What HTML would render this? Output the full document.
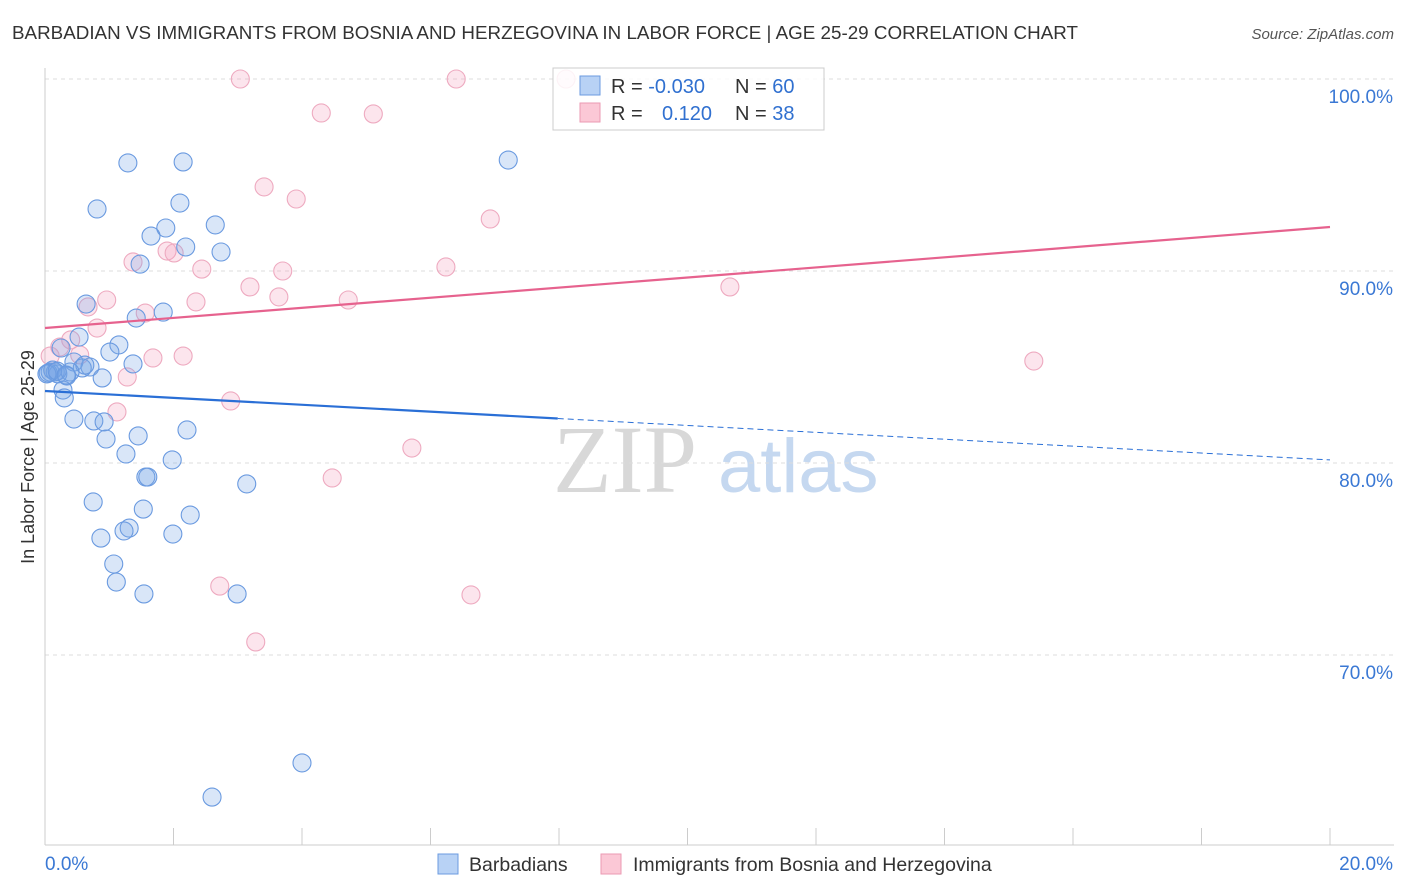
<!DOCTYPE html>
<html><head><meta charset="utf-8"><style>
body{margin:0;background:#fff;font-family:"Liberation Sans",sans-serif;}
svg{display:block}
</style></head><body>
<svg id="chart" width="1406" height="892" xmlns="http://www.w3.org/2000/svg">
<text x="12" y="39" font-size="18.8" fill="#333" font-family="Liberation Sans, sans-serif" textLength="1066">BARBADIAN VS IMMIGRANTS FROM BOSNIA AND HERZEGOVINA IN LABOR FORCE | AGE 25-29 CORRELATION CHART</text>
<text x="1394" y="39" font-size="15" fill="#555" font-style="italic" text-anchor="end">Source: ZipAtlas.com</text>
<g>
<text x="553" y="492" font-size="96" fill="#d8d8d8" font-family="Liberation Serif, serif">ZIP</text>
<text x="718" y="492" font-size="76" fill="#c5d8f0" font-family="Liberation Sans, sans-serif">atlas</text>
</g>
<g id="grid"></g>
<g id="axes"></g>
<g id="marks"></g>
<text transform="translate(34,457) rotate(-90)" font-size="18" fill="#333" text-anchor="middle">In Labor Force | Age 25-29</text>
<g>
<rect x="553" y="68" width="271" height="62" fill="#fff" fill-opacity="0.85" stroke="#ccc"/>
<rect x="580" y="76" width="20" height="19" fill="#b8d2f5" stroke="#6b9be0"/>
<text x="611" y="93" font-size="20" fill="#333">R = <tspan fill="#3070d0">-0.030</tspan></text>
<text x="735" y="93" font-size="20" fill="#333">N = <tspan fill="#3070d0">60</tspan></text>
<rect x="580" y="103" width="20" height="19" fill="#fbc8d6" stroke="#eb9ab3"/>
<text x="611" y="120" font-size="20" fill="#333">R = </text>
<text x="662" y="120" font-size="20" fill="#3070d0">0.120</text>
<text x="735" y="120" font-size="20" fill="#333">N = <tspan fill="#3070d0"> 38</tspan></text>
</g>
<g>
<rect x="438" y="854" width="20" height="20" fill="#b8d2f5" stroke="#6b9be0"/>
<text x="469" y="871" font-size="19.5" fill="#333">Barbadians</text>
<rect x="601" y="854" width="20" height="20" fill="#fbc8d6" stroke="#eb9ab3"/>
<text x="633" y="871" font-size="19.5" fill="#333">Immigrants from Bosnia and Herzegovina</text>
</g>
</svg>
<script>
const yTicks=[100,90,80,70];
const yTickLabels=["100.0%","90.0%","80.0%","70.0%"];
const xEndLabels=["0.0%","20.0%"];
const blueX=[1.29,2.15,7.21,0.81,2.10,2.65,1.88,1.65,2.19,2.74,1.48,0.64,1.84,1.42,0.53,1.15,0.25,1.01,0.45,0.70,1.37,0.58,0.08,0.16,0.20,0.34,0.89,0.28,0.30,0.45,0.76,0.92,1.45,2.21,0.95,1.26,1.98,1.57,1.60,3.14,0.75,1.53,2.26,1.31,1.23,0.87,1.99,1.07,1.11,1.54,2.99,4.00,2.60,0.05,0.12,0.62,0.03,0.19,0.39,0.33];
const blueY=[95.63,95.68,95.78,93.23,93.54,92.40,92.24,91.82,91.25,90.99,90.36,88.28,87.86,87.55,86.56,86.15,85.99,85.78,85.26,85.00,85.16,84.95,84.74,84.74,84.64,84.53,84.43,83.80,83.39,82.29,82.19,82.14,81.41,81.72,81.25,80.47,80.16,79.27,79.27,78.91,77.97,77.60,77.29,76.61,76.46,76.09,76.30,74.74,73.80,73.18,73.18,64.38,62.60,84.69,84.84,85.10,84.64,84.79,84.74,84.58];
const pinkX=[3.04,6.40,8.11,4.30,5.11,3.41,3.91,6.93,1.90,2.01,1.37,2.44,3.70,6.24,3.19,3.64,4.72,2.35,0.96,0.67,1.56,10.66,0.81,0.40,0.23,0.08,0.54,1.68,2.15,1.28,2.89,1.12,5.71,4.47,15.39,2.72,6.63,3.28];
const pinkY=[100,100,100,98.23,98.18,94.38,93.75,92.71,91.04,90.94,90.47,90.10,90.00,90.21,89.17,88.65,88.49,88.39,88.49,88.13,87.81,89.17,87.03,86.41,86.04,85.57,85.63,85.47,85.57,84.48,83.23,82.66,80.78,79.22,85.31,73.59,73.13,70.68];
const blueTrend=[83.75,80.16];
const pinkTrend=[87.03,92.29];
const blueSolidEnd=7.98;

const NS="http://www.w3.org/2000/svg";
const sx=v=>45+v*64.25;
const sy=v=>79+(100-v)*19.2;
function mk(tag,attrs,parent){const e=document.createElementNS(NS,tag);for(const k in attrs)e.setAttribute(k,attrs[k]);parent.appendChild(e);return e;}
const grid=document.getElementById('grid'),axes=document.getElementById('axes'),marks=document.getElementById('marks');
yTicks.forEach((t,i)=>{
 const l=mk('line',{x1:45,x2:1394,y1:sy(t),y2:sy(t),stroke:'#ddd','stroke-dasharray':'4,4'},grid);
 
 
 const tx=mk('text',{x:1393,y:sy(t)+24,'font-size':19,fill:'#3a78d4','text-anchor':'end'},axes);
 tx.textContent=yTickLabels[i];
 
 
});
const ax=mk('line',{x1:45,x2:1394,y1:845,y2:845,stroke:'#ccc'},axes);


const ay=mk('line',{x1:45,x2:45,y1:68,y2:845,stroke:'#ccc'},axes);


for(let i=0;i<=10;i++){
 const t=mk('line',{x1:sx(i*2),x2:sx(i*2),y1:828,y2:845,stroke:'#ccc'},axes);
 
 
}
const xl0=mk('text',{x:45,y:870,'font-size':19,fill:'#3a78d4'},axes);xl0.textContent=xEndLabels[0];


const xl1=mk('text',{x:1393,y:870,'font-size':19,fill:'#3a78d4','text-anchor':'end'},axes);xl1.textContent=xEndLabels[1];



pinkX.forEach((x,i)=>{
 const c=mk('circle',{cx:sx(x),cy:sy(pinkY[i]),r:9,fill:'rgba(245,160,190,0.28)',stroke:'#eeaac0','stroke-width':1.1},marks);
 
 
});
blueX.forEach((x,i)=>{
 const c=mk('circle',{cx:sx(x),cy:sy(blueY[i]),r:9,fill:'rgba(120,165,230,0.28)',stroke:'#6a9ae0','stroke-width':1.1},marks);
 
 
});
const bAt=x=>blueTrend[0]+(blueTrend[1]-blueTrend[0])*x/20;
const b1=mk('line',{x1:sx(0),y1:sy(bAt(0)),x2:sx(blueSolidEnd),y2:sy(bAt(blueSolidEnd)),stroke:'#2a6fd6','stroke-width':2.2},marks);


const b2=mk('line',{x1:sx(blueSolidEnd),y1:sy(bAt(blueSolidEnd)),x2:sx(20),y2:sy(bAt(20)),stroke:'#2a6fd6','stroke-width':1,'stroke-dasharray':'6,4'},marks);


const p1=mk('line',{x1:sx(0),y1:sy(pinkTrend[0]),x2:sx(20),y2:sy(pinkTrend[1]),stroke:'#e6628e','stroke-width':2.2},marks);


</script>
</body></html>
